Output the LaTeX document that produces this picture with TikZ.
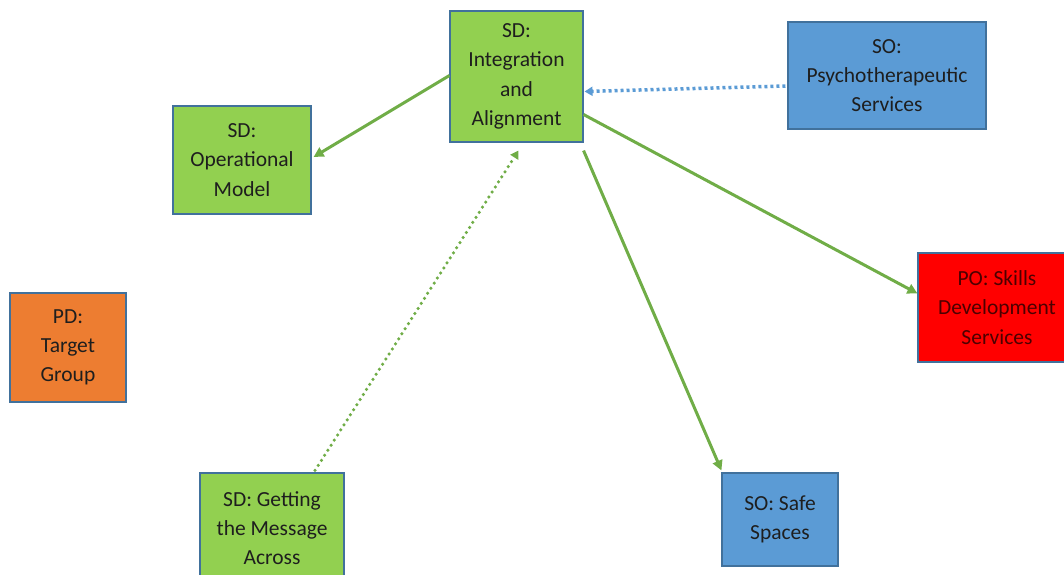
\documentclass[tikz,border=0pt]{standalone}
\usepackage{fontspec}
\setmainfont{Carlito}
\usetikzlibrary{arrows.meta,calc}
\definecolor{sdgreen}{HTML}{92D050}
\definecolor{soblue}{HTML}{5B9BD5}
\definecolor{pdorange}{HTML}{ED7D31}
\definecolor{pored}{HTML}{FF0000}
\definecolor{edge}{HTML}{41719C}
\definecolor{linkgreen}{HTML}{70AD47}
\definecolor{linkblue}{HTML}{5B9BD5}
\definecolor{txt}{HTML}{1E1E1E}
\begin{document}
\begin{tikzpicture}[x=1pt,y=-1pt,
  box/.style={draw=edge, line width=1.1pt, align=center, inner sep=0pt,
    font=\fontsize{21.5}{29.3}\selectfont, text=txt},
  sd/.style={box, fill=sdgreen},
  so/.style={box, fill=soblue},
  pd/.style={box, fill=pdorange},
  po/.style={box, fill=pored, text=black!70!pored},
  solidlink/.style={draw=linkgreen, line width=3pt,
    -{Triangle[length=10pt,width=10pt]}},
  dotlink/.style={line width=3.5pt, line cap=round, dash pattern=on 0pt off 6pt,
    -{Triangle[length=8pt,width=9pt]}},
  squarelink/.style={line width=3.5pt, dash pattern=on 3pt off 3pt,
    -{Triangle[length=8pt,width=9pt]}}
]
\useasboundingbox (0,0) rectangle (1064,574);

\node[sd, minimum width=133pt, minimum height=131pt] (integ) at (516.5,76.5)
  {SD:\\Integration\\and\\Alignment};
\node[so, minimum width=198pt, minimum height=107pt] (psycho) at (887,75.5)
  {SO:\\Psychotherapeutic\\Services};
\node[sd, minimum width=138pt, minimum height=108pt] (oper) at (242,160)
  {SD:\\Operational\\Model};
\node[po, minimum width=158pt, minimum height=109pt] (skills) at (997,307.5)
  {PO: Skills\\Development\\Services};
\node[pd, minimum width=116pt, minimum height=109pt] (target) at (68,347.5)
  {PD:\\Target\\Group};
\node[sd, minimum width=144pt, minimum height=110pt] (message) at (272,528)
  {SD: Getting\\the Message\\Across};
\node[so, minimum width=116pt, minimum height=93pt] (safe) at (780,519.5)
  {SO: Safe\\Spaces};

% connectors
\draw[solidlink] ($(integ.west)+(0,-1)$) -- ($(oper.east)+(2,-3)$);
\draw[solidlink] ($(integ.east)+(0,38)$) -- ($(skills.west)+(0,-14)$);
\draw[solidlink] ($(integ.south east)+(0,8)$) -- ($(safe.north west)+(0,-2)$);
\draw[squarelink, draw=linkblue] ($(psycho.west)+(-2,10.5)$) -- ($(integ.east)+(1,15)$);
\draw[dotlink, draw=linkgreen] ($(message.north)+(43,-2)$) -- ($(integ.south)+(2,8)$);
\end{tikzpicture}
\end{document}
